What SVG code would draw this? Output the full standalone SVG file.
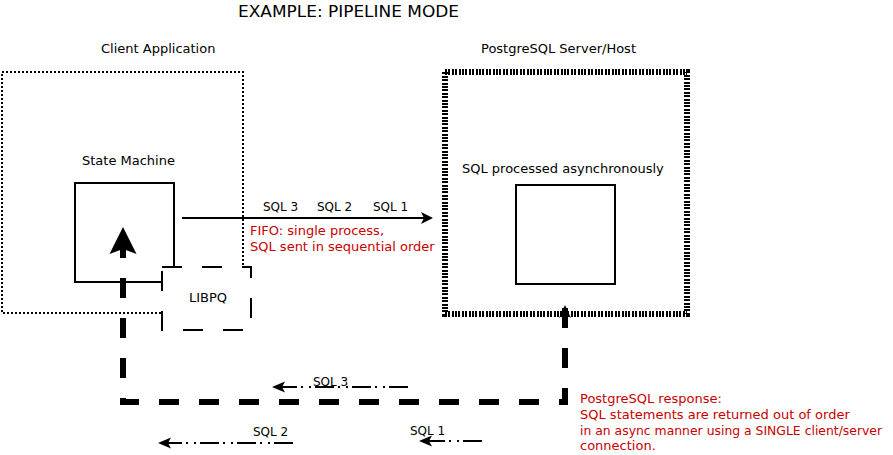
<svg xmlns="http://www.w3.org/2000/svg" width="893" height="455" viewBox="0 0 893 455">
<style>
text{font-family:"DejaVu Sans","Liberation Sans",sans-serif;fill:#000}
.t13{font-size:13px}
.t12{font-size:12px}
.red{fill:#c80000;font-size:13px}
.box{fill:none;stroke:#000;stroke-width:2}
.dashdot{fill:none;stroke:#000;stroke-width:2;stroke-dasharray:19 4 2 6 2 4}
</style>
<defs>
<marker id="small" markerUnits="userSpaceOnUse" orient="auto" refX="3" refY="0" overflow="visible" markerWidth="13" markerHeight="11">
<path d="M13,0 L0,-5.5 L3,0 L0,5.5 Z" fill="#000"/>
</marker>
<marker id="big" markerUnits="userSpaceOnUse" orient="auto" refX="5" refY="0" overflow="visible" markerWidth="27" markerHeight="27">
<path d="M27,0 L0,-13.5 L5,0 L0,13.5 Z" fill="#000"/>
</marker>
<marker id="mid" markerUnits="userSpaceOnUse" orient="auto" refX="3" refY="0" overflow="visible" markerWidth="12" markerHeight="12">
<path d="M12,0 L0,-6 L3,0 L0,6 Z" fill="#000"/>
</marker>
</defs>
<rect width="893" height="455" fill="#fff"/>
<text x="238" y="17" font-size="16" textLength="221" lengthAdjust="spacingAndGlyphs">EXAMPLE: PIPELINE MODE</text>

<g id="client">
<rect x="2" y="72" width="241" height="241" fill="none" stroke="#000" stroke-width="2" stroke-dasharray="2 2"/>
<text class="t13" x="101" y="53">Client Application</text>
</g>
<g id="state-machine">
<rect class="box" x="75" y="183" width="99" height="99"/>
<text class="t13" x="82" y="165">State Machine</text>
</g>
<g id="server">
<text class="t13" x="481" y="53">PostgreSQL Server/Host</text>
<path d="M565,305 L571,318 L565,314 L559,318 Z" fill="#000"/>
<rect x="445" y="72" width="242" height="242" fill="none" stroke="#000" stroke-width="6" stroke-dasharray="2 1.4" shape-rendering="crispEdges"/>
<text class="t13" x="462" y="173">SQL processed asynchronously</text>
<rect class="box" x="516" y="185" width="99" height="99"/>
</g>

<g id="connectors">
<line x1="182" y1="218" x2="424" y2="218" stroke="#000" stroke-width="2" marker-end="url(#mid)"/>
<path d="M565,308 V402 H123 V249" fill="none" stroke="#000" stroke-width="6" stroke-dasharray="20 20" marker-end="url(#big)"/>
<line class="dashdot" x1="408" y1="387" x2="282" y2="387" marker-end="url(#small)"/>
<line class="dashdot" x1="293" y1="443" x2="168" y2="443" marker-end="url(#small)"/>
<line class="dashdot" x1="482" y1="441" x2="429" y2="441" marker-end="url(#small)"/>
<text class="t12" x="263" y="211">SQL 3</text>
<text class="t12" x="317" y="211">SQL 2</text>
<text class="t12" x="373" y="211">SQL 1</text>
<text class="t12" x="313" y="386">SQL 3</text>
<text class="t12" x="253" y="436">SQL 2</text>
<text class="t12" x="410" y="435">SQL 1</text>
<text class="red" x="250" y="235">FIFO: single process,</text>
<text class="red" x="250" y="251">SQL sent in sequential order</text>
<text class="red" x="580" y="403">PostgreSQL response:</text>
<text class="red" x="580" y="419">SQL statements are returned out of order</text>
<text class="red" x="580" y="434.5" style="font-size:12.4px">in an async manner using a SINGLE client/server</text>
<text class="red" x="580" y="450">connection.</text>
</g>

<g id="libpq">
<rect x="162" y="267" width="89" height="63" fill="#fff" stroke="#000" stroke-width="2" stroke-dasharray="20 20"/>
<text class="t13" x="189" y="302">LIBPQ</text>
</g>
</svg>
